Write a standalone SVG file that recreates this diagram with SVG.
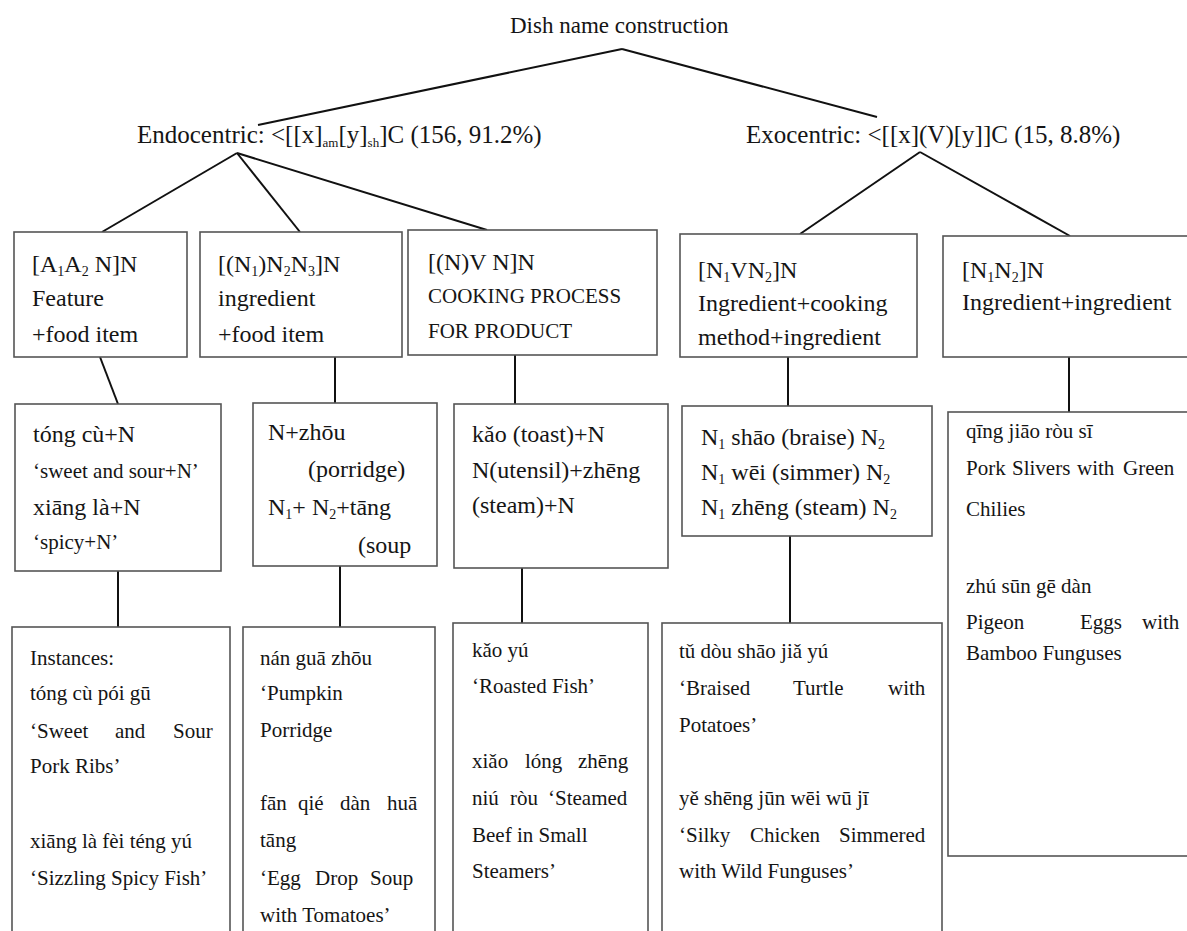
<svg xmlns="http://www.w3.org/2000/svg" width="1187" height="931" viewBox="0 0 1187 931">
<style>
.t{font-family:"Liberation Serif","Times New Roman",serif;fill:#151515}
.f25{font-size:25px}.f24{font-size:24px}.f23{font-size:23px}.f21{font-size:21px}.f20{font-size:20px}
.s{font-size:14px}
.ss{font-size:13px}
.b{fill:#fff;stroke:#555;stroke-width:1.6}
.c{stroke:#111;stroke-width:2;fill:none}
</style>
<rect x="0" y="0" width="1187" height="931" fill="#fff"/>
<g id="connectors">
<line class="c" x1="622" y1="49" x2="258" y2="125"/>
<line class="c" x1="622" y1="49" x2="877" y2="117"/>
<line class="c" x1="237" y1="153" x2="102" y2="232"/>
<line class="c" x1="237" y1="153" x2="300" y2="232"/>
<line class="c" x1="237" y1="153" x2="487" y2="230"/>
<line class="c" x1="920" y1="152" x2="800" y2="234"/>
<line class="c" x1="920" y1="152" x2="1070" y2="236"/>
<line class="c" x1="100" y1="357" x2="118" y2="404"/>
<line class="c" x1="335" y1="346" x2="335" y2="403"/>
<line class="c" x1="515" y1="355" x2="515" y2="404"/>
<line class="c" x1="788" y1="357" x2="788" y2="406"/>
<line class="c" x1="1069" y1="357" x2="1069" y2="412"/>
<line class="c" x1="118" y1="571" x2="118" y2="627"/>
<line class="c" x1="340" y1="566" x2="340" y2="627"/>
<line class="c" x1="522" y1="568" x2="522" y2="623"/>
<line class="c" x1="790" y1="536" x2="790" y2="623"/>
</g>
<g id="root"><text class="t f23" x="510" y="33">Dish name construction</text></g>
<g id="endocentric"><text class="t f25" x="137" y="143">Endocentric: &lt;[[x]<tspan class="ss" dy="4">am</tspan><tspan dy="-4">[y]</tspan><tspan class="ss" dy="4">sh</tspan><tspan dy="-4">]C (156, 91.2%)</tspan></text></g>
<g id="exocentric"><text class="t f25" x="746" y="143">Exocentric: &lt;[[x](V)[y]]C (15, 8.8%)</text></g>

<g id="n-a1a2n">
<rect class="b" x="14" y="232" width="173" height="125"/>
<text class="t f24" x="32" y="272">[A<tspan class="s" dy="4">1</tspan><tspan dy="-4">A</tspan><tspan class="s" dy="4">2</tspan><tspan dy="-4"> N]N</tspan></text>
<text class="t f24" x="32" y="306">Feature</text>
<text class="t f24" x="32" y="342">+food item</text>
</g>
<g id="n-n1n2n3">
<rect class="b" x="200" y="232" width="202" height="125"/>
<text class="t f24" x="218" y="272">[(N<tspan class="s" dy="4">1</tspan><tspan dy="-4">)N</tspan><tspan class="s" dy="4">2</tspan><tspan dy="-4">N</tspan><tspan class="s" dy="4">3</tspan><tspan dy="-4">]N</tspan></text>
<text class="t f24" x="218" y="306">ingredient</text>
<text class="t f24" x="218" y="342">+food item</text>
</g>
<g id="n-nvn">
<rect class="b" x="408" y="230" width="249" height="125"/>
<text class="t f24" x="428" y="270">[(N)V N]N</text>
<text class="t f21" x="428" y="303">COOKING PROCESS</text>
<text class="t f21" x="428" y="338">FOR PRODUCT</text>
</g>
<g id="n-n1vn2">
<rect class="b" x="680" y="234" width="237" height="123"/>
<text class="t f24" x="698" y="278">[N<tspan class="s" dy="4">1</tspan><tspan dy="-4">VN</tspan><tspan class="s" dy="4">2</tspan><tspan dy="-4">]N</tspan></text>
<text class="t f24" x="698" y="311">Ingredient+cooking</text>
<text class="t f24" x="698" y="345">method+ingredient</text>
</g>
<g id="n-n1n2">
<rect class="b" x="943" y="236" width="260" height="121"/>
<text class="t f24" x="962" y="278">[N<tspan class="s" dy="4">1</tspan><tspan dy="-4">N</tspan><tspan class="s" dy="4">2</tspan><tspan dy="-4">]N</tspan></text>
<text class="t f24" x="962" y="310">Ingredient+ingredient</text>
</g>

<g id="p-tongcu">
<rect class="b" x="15" y="404" width="206" height="167"/>
<text class="t f24" x="33" y="442">tóng cù+N</text>
<text class="t f21" x="33" y="478">‘sweet and sour+N’</text>
<text class="t f24" x="33" y="515">xiāng là+N</text>
<text class="t f21" x="33" y="549">‘spicy+N’</text>
</g>
<g id="p-zhou">
<rect class="b" x="253" y="403" width="184" height="163"/>
<text class="t f24" x="268" y="440">N+zhōu</text>
<text class="t f24" x="308" y="477">(porridge)</text>
<text class="t f24" x="268" y="515">N<tspan class="s" dy="4">1</tspan><tspan dy="-4">+ N</tspan><tspan class="s" dy="4">2</tspan><tspan dy="-4">+tāng</tspan></text>
<text class="t f24" x="358" y="553">(soup</text>
</g>
<g id="p-kao">
<rect class="b" x="454" y="404" width="214" height="164"/>
<text class="t f24" x="472" y="442">kǎo (toast)+N</text>
<text class="t f24" x="472" y="478">N(utensil)+zhēng</text>
<text class="t f24" x="472" y="513">(steam)+N</text>
</g>
<g id="p-shao">
<rect class="b" x="682" y="406" width="250" height="130"/>
<text class="t f24" x="701" y="445">N<tspan class="s" dy="4">1</tspan><tspan dy="-4"> shāo (braise) N</tspan><tspan class="s" dy="4">2</tspan></text>
<text class="t f24" x="701" y="480">N<tspan class="s" dy="4">1</tspan><tspan dy="-4"> wēi (simmer) N</tspan><tspan class="s" dy="4">2</tspan></text>
<text class="t f24" x="701" y="515">N<tspan class="s" dy="4">1</tspan><tspan dy="-4"> zhēng (steam) N</tspan><tspan class="s" dy="4">2</tspan></text>
</g>
<g id="e-n1n2">
<rect class="b" x="948" y="412" width="260" height="444"/>
<text class="t f21" x="966" y="438">qīng jiāo ròu sī</text>
<text class="t f21" y="475"><tspan x="966">Pork</tspan><tspan x="1012">Slivers</tspan><tspan x="1077">with</tspan><tspan x="1123">Green</tspan></text>
<text class="t f21" x="966" y="516">Chilies</text>
<text class="t f21" x="966" y="593">zhú sūn gē dàn</text>
<text class="t f21" y="629"><tspan x="966">Pigeon</tspan><tspan x="1080">Eggs</tspan><tspan x="1142">with</tspan></text>
<text class="t f21" x="966" y="660">Bamboo Funguses</text>
</g>

<g id="i-sweetsour">
<rect class="b" x="12" y="627" width="218" height="320"/>
<text class="t f21" x="30" y="665">Instances:</text>
<text class="t f21" x="30" y="700">tóng cù  pói gū</text>
<text class="t f21" y="738"><tspan x="30">‘Sweet</tspan><tspan x="115">and</tspan><tspan x="173">Sour</tspan></text>
<text class="t f21" x="30" y="773">Pork Ribs’</text>
<text class="t f21" x="30" y="848">xiāng là fèi téng yú</text>
<text class="t f21" x="30" y="885">‘Sizzling Spicy Fish’</text>
</g>
<g id="i-porridge">
<rect class="b" x="243" y="627" width="192" height="320"/>
<text class="t f21" x="260" y="665">nán guā zhōu</text>
<text class="t f21" x="260" y="700">‘Pumpkin</text>
<text class="t f21" x="260" y="737">Porridge</text>
<text class="t f21" y="810"><tspan x="260">fān</tspan><tspan x="298">qié</tspan><tspan x="340">dàn</tspan><tspan x="387">huā</tspan></text>
<text class="t f21" x="260" y="847">tāng</text>
<text class="t f21" y="885"><tspan x="260">‘Egg</tspan><tspan x="315">Drop</tspan><tspan x="370">Soup</tspan></text>
<text class="t f21" x="260" y="922">with Tomatoes’</text>
</g>
<g id="i-roasted">
<rect class="b" x="453" y="623" width="195" height="324"/>
<text class="t f21" x="472" y="657">kǎo yú</text>
<text class="t f21" x="472" y="693">‘Roasted Fish’</text>
<text class="t f21" y="768"><tspan x="472">xiǎo</tspan><tspan x="525">lóng</tspan><tspan x="578">zhēng</tspan></text>
<text class="t f21" y="805"><tspan x="472">niú</tspan><tspan x="510">ròu</tspan><tspan x="548">‘Steamed</tspan></text>
<text class="t f21" x="472" y="842">Beef in Small</text>
<text class="t f21" x="472" y="878">Steamers’</text>
</g>
<g id="i-braised">
<rect class="b" x="662" y="623" width="280" height="324"/>
<text class="t f21" x="679" y="658">tǔ dòu shāo jiǎ yú</text>
<text class="t f21" y="695"><tspan x="679">‘Braised</tspan><tspan x="793">Turtle</tspan><tspan x="888">with</tspan></text>
<text class="t f21" x="679" y="732">Potatoes’</text>
<text class="t f21" x="679" y="805">yě shēng jūn wēi wū jī</text>
<text class="t f21" y="842"><tspan x="679">‘Silky</tspan><tspan x="750">Chicken</tspan><tspan x="839">Simmered</tspan></text>
<text class="t f21" x="679" y="878">with Wild Funguses’</text>
</g>
</svg>
